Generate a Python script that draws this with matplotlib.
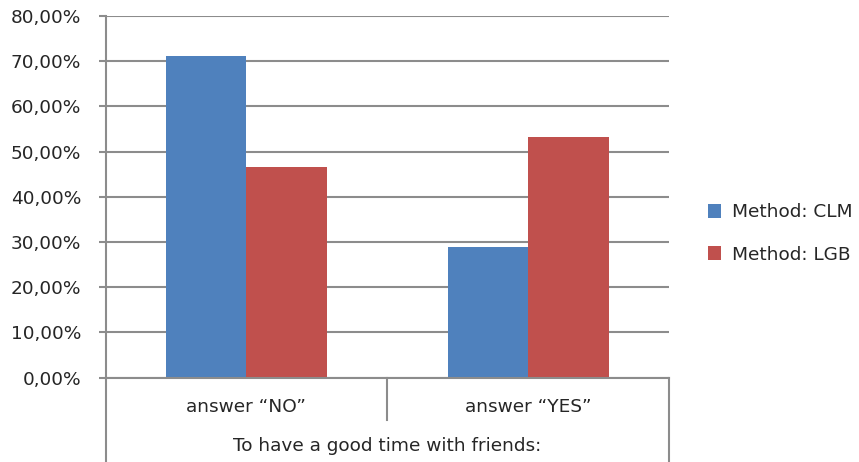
import matplotlib
matplotlib.use("Agg")
import matplotlib.pyplot as plt
from matplotlib.lines import Line2D
from matplotlib.ticker import FuncFormatter
from matplotlib.transforms import blended_transform_factory
import numpy as np

categories = ['answer \u201cNO\u201d', 'answer \u201cYES\u201d']
outer_label = 'To have a good time with friends:'
series_names = ['Method: CLM', 'Method: LGB']
clm_values = [71.1, 28.9]
lgb_values = [46.7, 53.3]
y_ticks = [0, 10, 20, 30, 40, 50, 60, 70, 80]

colors = ['#4f81bd', '#c0504d']
grid_color = '#8c8c8c'
text_color = '#262626'
fs = 13.3

plt.rcParams['font.family'] = ['DejaVu Sans']

W, H = 859, 462
fig = plt.figure(figsize=(W / 100, H / 100), dpi=100)
x0, x1 = 105.5, 669
y0, y1 = 377.7, 16
ax = fig.add_axes([x0 / W, (H - y0) / H, (x1 - x0) / W, (y0 - y1) / H])

x = np.arange(len(categories))
bw = 1 / 3.5
ax.bar(x - bw / 2, clm_values, bw, color=colors[0], label=series_names[0], zorder=3)
ax.bar(x + bw / 2, lgb_values, bw, color=colors[1], label=series_names[1], zorder=3)

ax.set_xlim(-0.5, len(categories) - 0.5)
ax.set_ylim(0, 80)
ax.set_yticks(y_ticks)
ax.yaxis.set_major_formatter(FuncFormatter(lambda v, p: f"{v:.2f}".replace('.', ',') + '%'))
ax.tick_params(axis='y', length=5, width=1.5, color=grid_color, labelsize=fs, pad=12.5,
               labelcolor=text_color)
ax.set_xticks([])
ax.grid(axis='y', color=grid_color, linewidth=1.5, zorder=0)
for s in ['top', 'right', 'bottom']:
    ax.spines[s].set_visible(False)
ax.spines['left'].set_color(grid_color)
ax.spines['left'].set_linewidth(1.5)

# category axis table
lw = 1.5
def ypix(py):
    return (H - py) / H
bt = blended_transform_factory(ax.transData, fig.transFigure)
ax.add_line(Line2D([-0.5, -0.5], [ypix(y0), 0], transform=bt, color=grid_color, lw=lw, clip_on=False))
ax.add_line(Line2D([1.5, 1.5], [ypix(y0), 0], transform=bt, color=grid_color, lw=lw, clip_on=False))
ax.add_line(Line2D([0.5, 0.5], [ypix(y0), ypix(420)], transform=bt, color=grid_color, lw=lw, clip_on=False))
ax.add_line(Line2D([-0.5, 1.5], [ypix(y0), ypix(y0)], transform=bt, color=grid_color, lw=lw, clip_on=False, zorder=4))

for i, c in enumerate(categories):
    ax.text(i, ypix(407), c, transform=bt, ha='center', va='center', fontsize=fs, color=text_color)
ax.text(0.5, ypix(446), outer_label, transform=bt, ha='center', va='center', fontsize=fs, color=text_color)

leg = fig.legend(loc='center left', bbox_to_anchor=(691 / W, (H - 233.5) / H), frameon=False,
                 fontsize=fs, handlelength=0.75, handleheight=0.75, handletextpad=0.55,
                 labelspacing=1.3)
for t in leg.get_texts():
    t.set_color(text_color)

fig.savefig('out.png', dpi=100)
